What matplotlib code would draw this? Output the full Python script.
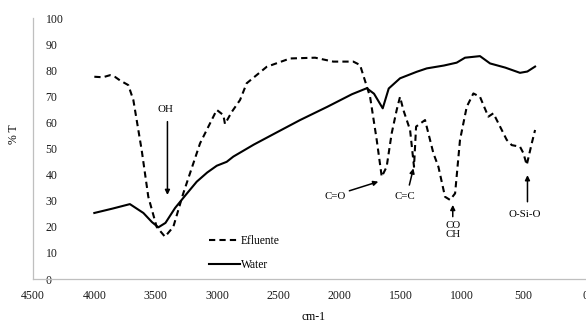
import matplotlib
matplotlib.use('Agg')
import matplotlib.pyplot as plt

plt.rcParams['font.family'] = ['Liberation Serif', 'DejaVu Serif']

# wavenumber (cm-1) and % T
water_x = [4000, 3850, 3710, 3600, 3530, 3478, 3420, 3342, 3250, 3165, 3080,
           3002, 2921, 2867, 2700, 2500, 2323, 2100, 1900, 1779, 1720, 1649,
           1600, 1508, 1372, 1290, 1150, 1046, 978, 856, 774, 650, 530, 470, 407]
water_y = [25.3, 27.0, 28.7, 25.3, 21.8, 19.8, 21.5, 27.2, 32.5, 37.3, 40.8,
           43.4, 44.9, 46.9, 51.5, 56.5, 60.9, 66.0, 70.8, 73.1, 71.0, 65.4,
           73.0, 76.9, 79.4, 80.7, 81.8, 82.9, 84.8, 85.4, 82.6, 81.0, 79.0,
           79.5, 81.4]

eff_x = [4000, 3930, 3872, 3830, 3791, 3723, 3682, 3614, 3560, 3492, 3424,
         3356, 3275, 3138, 3002, 2948, 2935, 2880, 2812, 2758, 2595, 2405,
         2200, 2052, 1889, 1834, 1752, 1698, 1657, 1617, 1576, 1535, 1508,
         1481, 1426, 1394, 1377, 1304, 1236, 1195, 1141, 1100, 1059, 1019,
         964, 910, 856, 788, 747, 638, 597, 530, 502, 475, 434, 407]
eff_y = [77.5, 77.3, 78.1, 77.4, 76.1, 74.3, 68.6, 49.4, 31.5, 20.0, 16.2,
         20.0, 32.8, 52.0, 64.8, 62.8, 59.4, 64.0, 68.6, 75.0, 81.3, 84.5,
         84.8, 83.3, 83.3, 82.0, 69.8, 53.3, 39.2, 43.0, 55.8, 64.8, 69.8,
         64.8, 57.1, 43.0, 58.4, 60.9, 48.2, 43.0, 31.5, 30.3, 32.8, 53.3,
         66.0, 71.1, 69.8, 62.2, 63.5, 53.3, 51.3, 50.7, 48.2, 43.7, 52.0, 57.1]

x_ticks = [4500, 4000, 3500, 3000, 2500, 2000, 1500, 1000, 500, 0]
y_ticks = [0, 10, 20, 30, 40, 50, 60, 70, 80, 90, 100]

# band labels: text, text position, arrow start, arrow tip
bands = [
    ('OH', (3418, 64.8), (3404, 60.3), (3404, 32.2)),
    ('C=O', (2038, 31.5), (1921, 33.8), (1685, 37.3)),
    ('C=C', (1467, 31.5), (1432, 36.0), (1399, 42.4)),
    ('CO\nCH', (1078, 18.8), (1078, 23.9), (1078, 28.4)),
    ('O-Si-O', (489, 24.8), (469, 29.6), (469, 39.8)),
]

fig = plt.figure(figsize=(5.86, 3.23), dpi=100)
ax = fig.add_axes([0.0563, 0.1362, 0.942, 0.808])

ax.plot(eff_x, eff_y, color='black', lw=1.5, ls=(0, (3.0, 2.0)), label='Efluente')
ax.plot(water_x, water_y, color='black', lw=1.5, label='Water')

ax.set_xlim(4500, 0)
ax.set_ylim(0, 100)
ax.set_xticks(x_ticks)
ax.set_yticks(y_ticks)

for s in ['top', 'right']:
    ax.spines[s].set_visible(False)
for s in ['left', 'bottom']:
    ax.spines[s].set_color('#bfbfbf')
    ax.spines[s].set_linewidth(0.9)

ax.tick_params(axis='x', length=0, pad=8, labelsize=8.5, colors='#1a1a1a')
ax.tick_params(axis='y', length=0, pad=-9, labelsize=8.5, colors='#1a1a1a')
for lab in ax.get_yticklabels():
    lab.set_horizontalalignment('left')

for text, tpos, start, tip in bands:
    ax.text(tpos[0], tpos[1], text, fontsize=7.8, ha='center', va='center',
            linespacing=1.1)
    ax.annotate('', xy=tip, xytext=start,
                arrowprops=dict(arrowstyle='-|>', color='black', lw=1.1,
                                mutation_scale=7, shrinkA=0, shrinkB=0))

fig.text(313 / 586, 1 - 317 / 323, 'cm-1', fontsize=8.5, ha='center', va='center')
ax.set_ylabel('% T', fontsize=8.5)
ax.yaxis.set_label_coords(-0.024, 0.556)

ax.legend(loc='upper left', bbox_to_anchor=(0.31, 0.185), frameon=False,
          fontsize=8.3, handlelength=2.7, handletextpad=0.1,
          labelspacing=1.0, borderaxespad=0)

fig.savefig('out.png', dpi=100, facecolor='white')
